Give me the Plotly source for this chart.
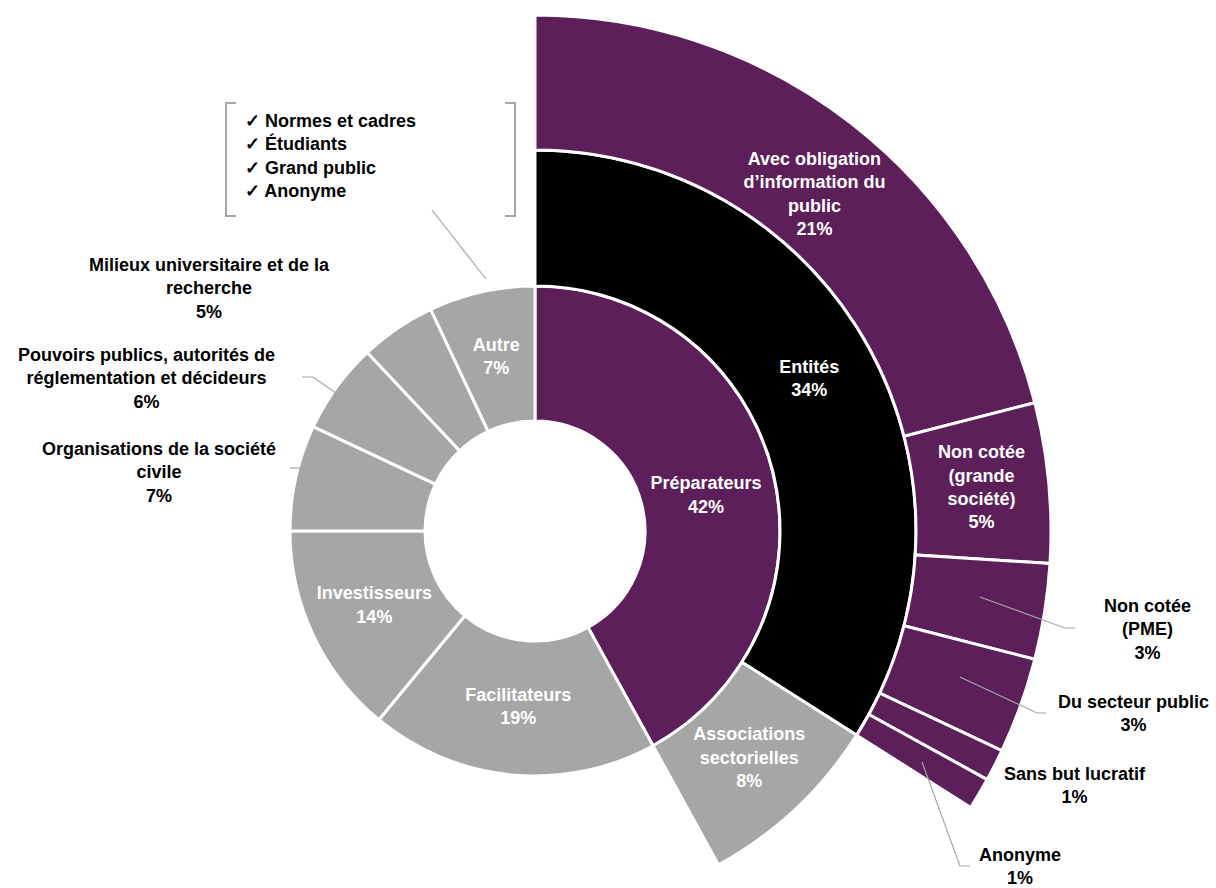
import numpy as np
import plotly.graph_objects as go

# Inner ring: stakeholder groups, listed clockwise from the top
groupes = ["Préparateurs", "Facilitateurs", "Investisseurs",
           "Organisations de la société<br>civile",
           "Pouvoirs publics, autorités de<br>réglementation et décideurs",
           "Milieux universitaire et de la<br>recherche",
           "Autre"]
groupes_pct = [42, 19, 14, 7, 6, 5, 7]

# Middle ring: breakdown of "Préparateurs"
preparateurs = ["Entités", "Associations<br>sectorielles"]
preparateurs_pct = [34, 8]

# Outer ring: breakdown of "Entités"
entites = ["Avec obligation<br>d’information du<br>public",
           "Non cotée<br>(grande<br>société)",
           "Non cotée<br>(PME)",
           "Du secteur public",
           "Sans but lucratif",
           "Anonyme"]
entites_pct = [21, 5, 3, 3, 1, 1]

# Respondent types grouped under "Autre"
autre_detail = ["Normes et cadres", "Étudiants", "Grand public", "Anonyme"]

# ---------------------------------------------------------------- styling
W, H = 1216, 888
CX, CY = 535, 531                      # pixel centre of the rings
R_HOLE, R_IN, R_MID, R_OUT = 110, 245, 381, 516
PURPLE, GREY, BLACK = "#5D1F5A", "#A6A6A6", "#000000"
LEADER = "#A6A6A6"
FONT = "Liberation Sans, Arial, sans-serif"
FS = 18

groupes_col = [PURPLE] + [GREY] * 6
preparateurs_col = [BLACK, GREY]
entites_col = [PURPLE] * 6

# labels drawn inside their own segment (the others sit outside)
inside = {"Préparateurs", "Facilitateurs", "Investisseurs", "Autre", "Entités",
          "Associations<br>sectorielles", "Avec obligation<br>d’information du<br>public",
          "Non cotée<br>(grande<br>société)"}

# nudges (radius px, angle deg) for a few in-segment labels
label_nudge = {
    "Préparateurs": (-3, 3),
    "Avec obligation<br>d’information du<br>public": (-12, 2),
}

# outside label centres, in page pixels
outside_pos = {
    "Milieux universitaire et de la<br>recherche": (209, 288),
    "Pouvoirs publics, autorités de<br>réglementation et décideurs": (146, 378),
    "Organisations de la société<br>civile": (159, 472),
    "Non cotée<br>(PME)": (1147, 629),
    "Du secteur public": (1133, 713),
    "Sans but lucratif": (1075, 785),
    "Anonyme": (1020, 866),
}

# leader lines, in page pixels
leaders = [
    [(432, 210), (486, 279)],
    [(302, 377), (313, 377), (336, 393)],
    [(290, 468), (300, 468)],
    [(980, 597), (1065, 628), (1075, 628)],
    [(960, 677), (1037, 713), (1046, 713)],
    [(922, 762), (960, 866), (970, 866)],
]


def px(x, y):
    return x / W, 1 - y / H


def ring_geometry(pcts, start=0.0):
    deg = np.asarray(pcts, float) * 3.6
    starts = start + np.concatenate([[0.0], np.cumsum(deg)[:-1]])
    return starts + deg / 2, deg


def sector_bbox(a0, a1):
    angles = [a0, a1] + [a for a in range(-360, 721, 90) if a0 < a < a1]
    xs = [0.0] + [np.cos(np.radians(a)) for a in angles]
    ys = [0.0] + [np.sin(np.radians(a)) for a in angles]
    return min(xs), min(ys), max(xs), max(ys)


def polar_layout(rmax, sector):
    # one data unit on the radial axis equals one pixel, same centre for all rings
    x0, y0, x1, y1 = sector_bbox(*sector)
    left, right = CX + rmax * x0, CX + rmax * x1
    top, bottom = CY - rmax * y1, CY - rmax * y0
    return dict(
        domain=dict(x=[left / W, right / W], y=[1 - bottom / H, 1 - top / H]),
        sector=list(sector), hole=0, bgcolor="rgba(0,0,0,0)", barmode="overlay",
        radialaxis=dict(range=[0, rmax], visible=False),
        angularaxis=dict(direction="clockwise", rotation=90, visible=False),
    )


def ring(subplot, names, pcts, colors, r0, r1):
    theta, width = ring_geometry(pcts)
    traces = [go.Barpolar(
        r=[r1 - r0] * len(pcts), base=[r0] * len(pcts), theta=theta, width=width,
        marker=dict(color=colors, line=dict(color="white", width=3)),
        hovertext=names, hoverinfo="text", subplot=subplot, showlegend=False)]
    idx = [i for i, n in enumerate(names) if n in inside]
    rr = [(r0 + r1) / 2 + label_nudge.get(names[i], (0, 0))[0] for i in idx]
    tt = [theta[i] + label_nudge.get(names[i], (0, 0))[1] for i in idx]
    traces.append(go.Scatterpolar(
        r=rr, theta=tt,
        text=[f"{names[i]}<br>{pcts[i]}%" for i in idx],
        mode="text", textposition="middle center", cliponaxis=False,
        textfont=dict(family=FONT, size=FS, color="white", weight="bold"),
        hoverinfo="skip", subplot=subplot, showlegend=False))
    return traces


fig = go.Figure()
for t in ring("polar", groupes, groupes_pct, groupes_col, R_HOLE, R_IN):
    fig.add_trace(t)
for t in ring("polar2", preparateurs, preparateurs_pct, preparateurs_col, R_IN, R_MID):
    fig.add_trace(t)
for t in ring("polar3", entites, entites_pct, entites_col, R_MID, R_OUT):
    fig.add_trace(t)

annotations = []
for names, pcts in [(groupes, groupes_pct), (entites, entites_pct)]:
    for n, v in zip(names, pcts):
        if n in outside_pos:
            x, y = px(*outside_pos[n])
            annotations.append(dict(
                x=x, y=y, xref="paper", yref="paper", showarrow=False,
                text=f"{n}<br>{v}%", align="center", xanchor="center", yanchor="middle",
                font=dict(family=FONT, size=FS, color="black", weight="bold")))

x, y = px(243, 156)
annotations.append(dict(
    x=x, y=y, xref="paper", yref="paper", showarrow=False,
    text="<br>".join(f"✓ {d}" for d in autre_detail),
    align="left", xanchor="left", yanchor="middle",
    font=dict(family=FONT, size=FS, color="black", weight="bold")))

shapes = []
for pts in leaders:
    path = " ".join(("M" if i == 0 else "L") + f" {px(*p)[0]} {px(*p)[1]}"
                    for i, p in enumerate(pts))
    shapes.append(dict(type="path", path=path, xref="paper", yref="paper",
                       line=dict(color=LEADER, width=1.2)))

# square brackets around the "Autre" detail list
for xs, xe in [(226, 236), (515, 505)]:
    pts = [(xe, 103), (xs, 103), (xs, 216), (xe, 216)]
    path = " ".join(("M" if i == 0 else "L") + f" {px(*p)[0]} {px(*p)[1]}"
                    for i, p in enumerate(pts))
    shapes.append(dict(type="path", path=path, xref="paper", yref="paper",
                       line=dict(color=LEADER, width=2)))

fig.update_layout(
    width=W, height=H,
    margin=dict(l=0, r=0, t=0, b=0),
    paper_bgcolor="white", plot_bgcolor="white",
    polar=polar_layout(R_IN + 5, (0, 360)),
    polar2=polar_layout(R_MID + 4, (-64, 93)),
    polar3=polar_layout(R_OUT + 4, (-35, 93)),
    annotations=annotations, shapes=shapes,
    showlegend=False,
)

fig.write_html("out.html")
